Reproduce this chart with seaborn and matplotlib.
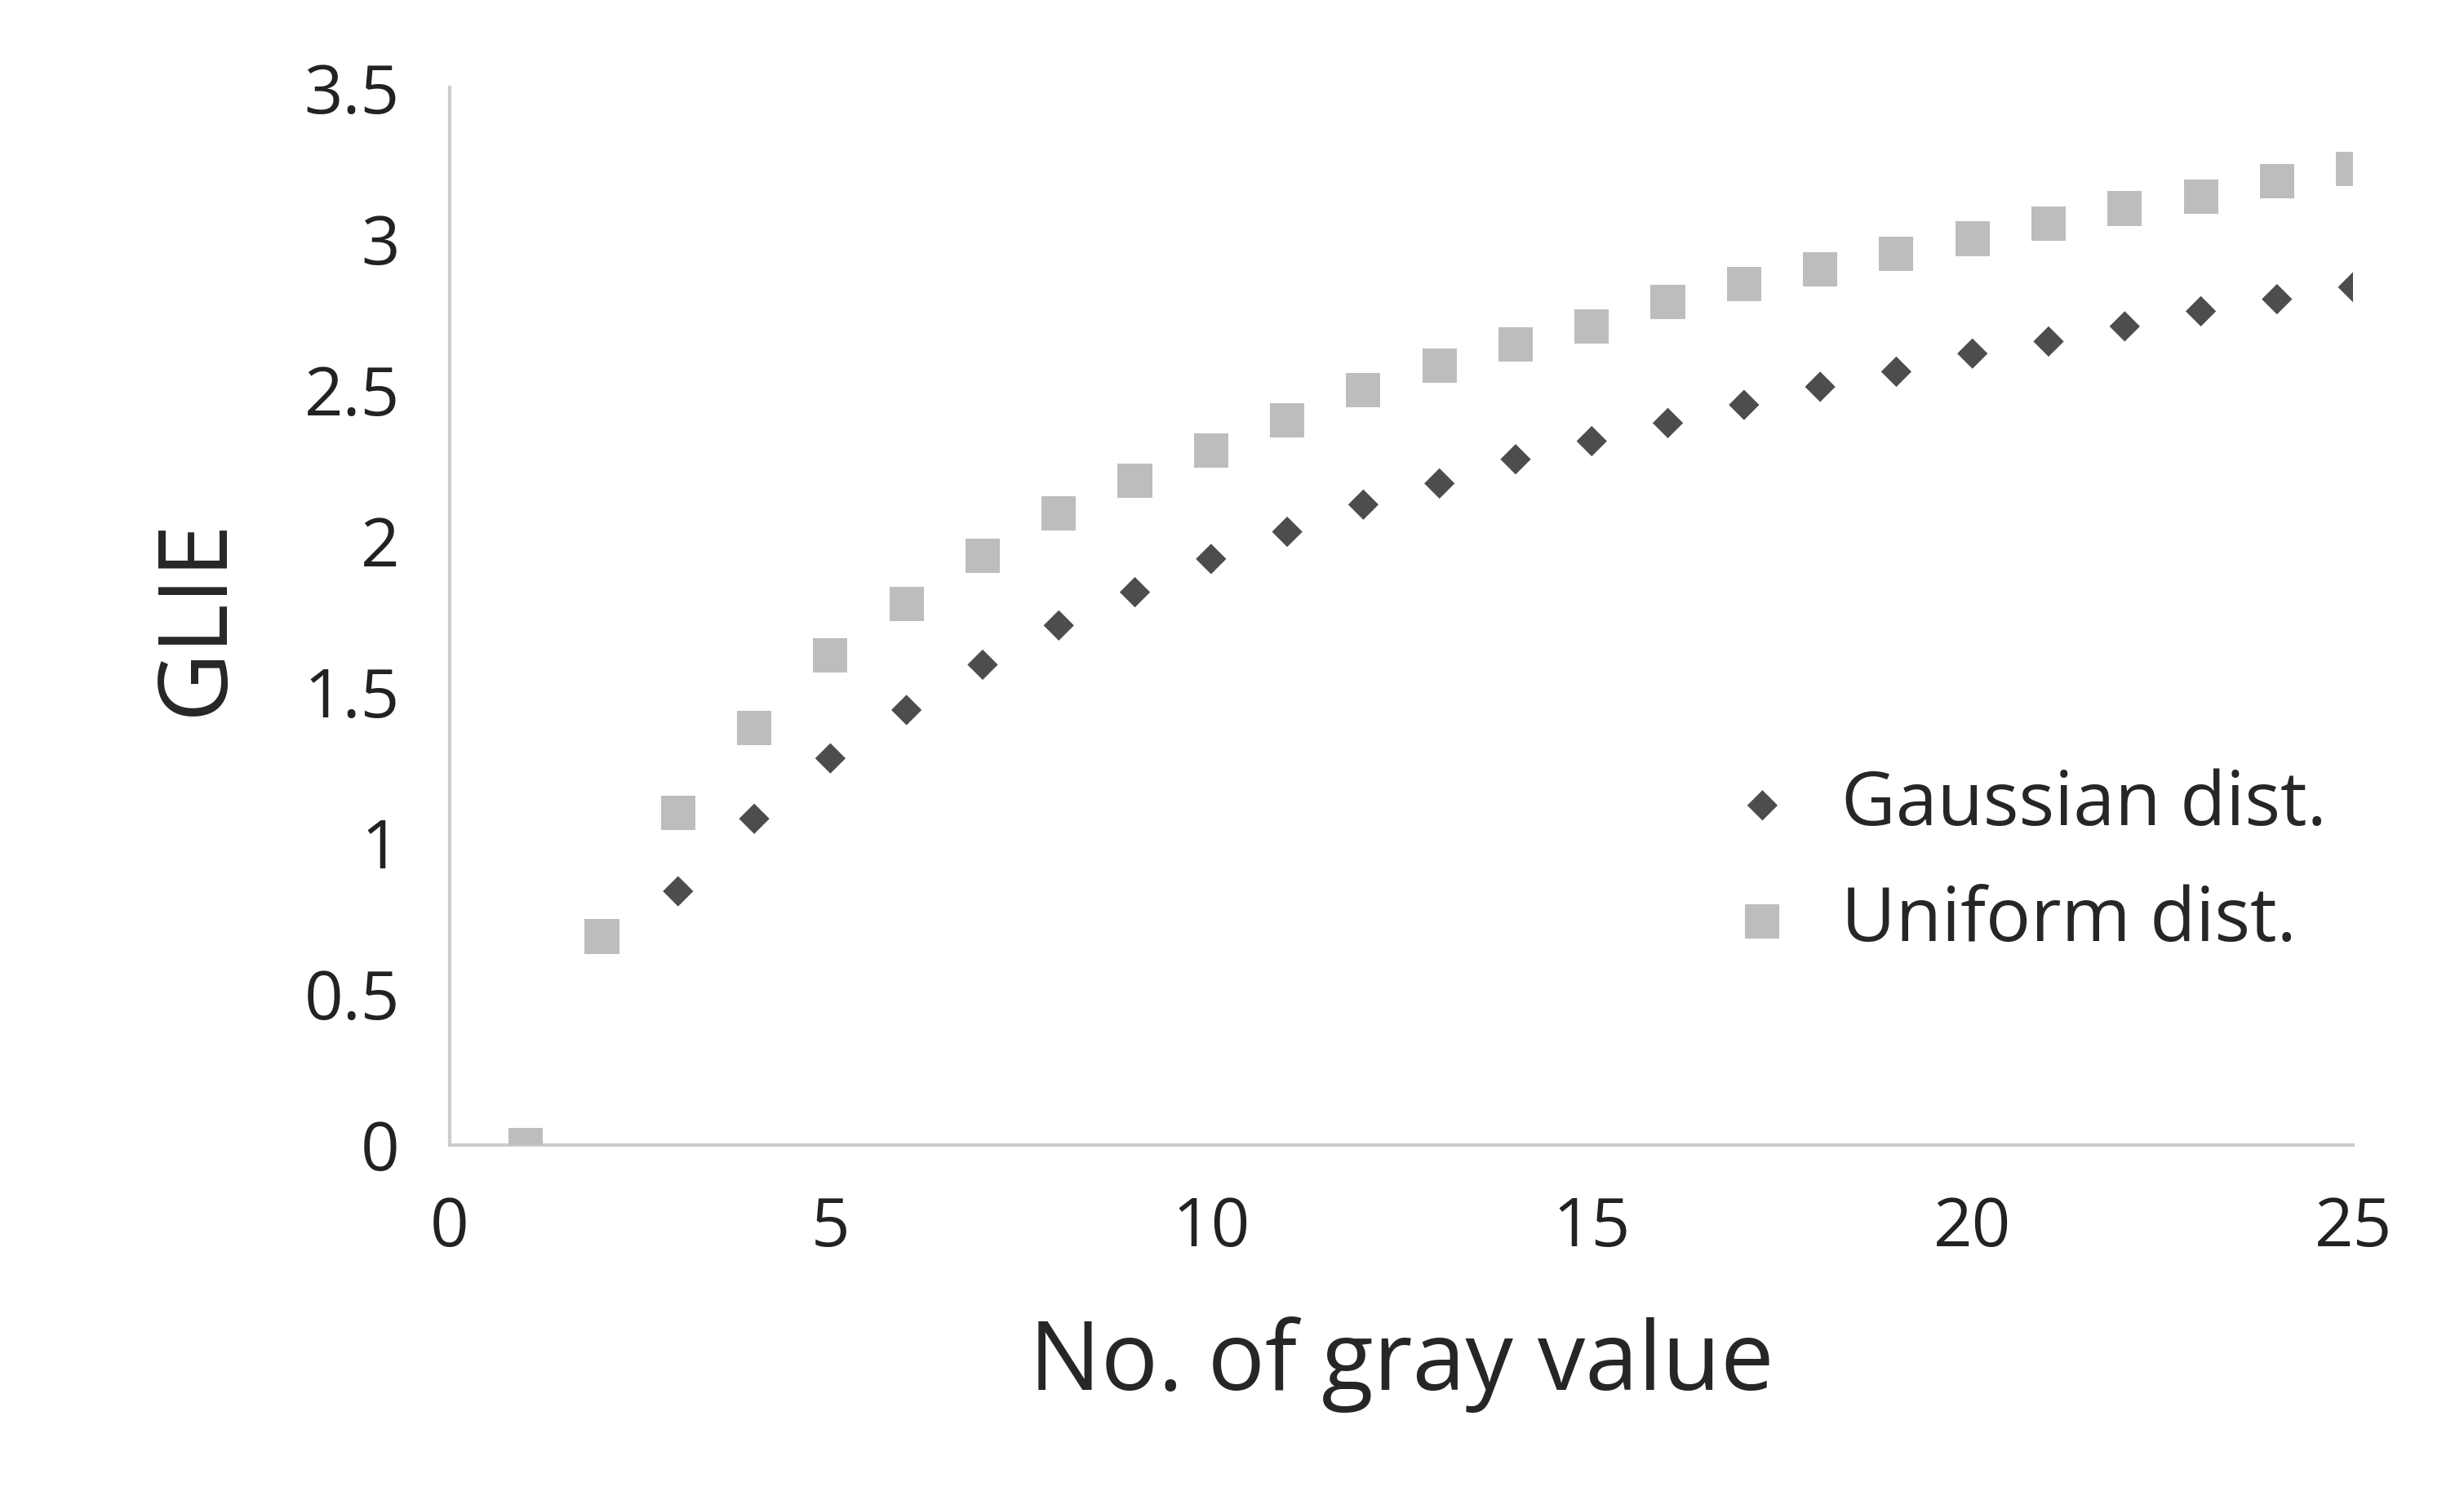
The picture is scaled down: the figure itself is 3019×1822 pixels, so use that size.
import pandas as pd
import matplotlib.pyplot as plt
import seaborn as sns

# values
gray_values = list(range(1, 26))
gaussian = [0, 0.69, 0.84, 1.08, 1.28, 1.44, 1.59, 1.72, 1.83, 1.94, 2.03, 2.12, 2.19,
            2.27, 2.33, 2.39, 2.45, 2.51, 2.56, 2.62, 2.66, 2.71, 2.76, 2.80, 2.84]
uniform = [0, 0.69, 1.10, 1.38, 1.62, 1.79, 1.95, 2.09, 2.20, 2.30, 2.40, 2.50, 2.58,
           2.65, 2.71, 2.79, 2.85, 2.90, 2.95, 3.00, 3.05, 3.10, 3.14, 3.19, 3.23]
series_names = ['Gaussian dist.', 'Uniform dist.']

df = pd.concat([
    pd.DataFrame({'x': gray_values, 'y': gaussian, 'dist': series_names[0]}),
    pd.DataFrame({'x': gray_values, 'y': uniform, 'dist': series_names[1]}),
])

sns.set_style('white')
plt.rcParams['font.family'] = ['Open Sans', 'DejaVu Sans']

fig = plt.figure(figsize=(15.095, 9.11), dpi=200)
ax = fig.add_axes([0.1825, 0.23, 0.7725, 0.711])

# gaussian under the squares: where they coincide only the square shows
sns.scatterplot(data=df[df.dist == series_names[0]], x='x', y='y', ax=ax,
                marker='D', s=90, color='#4d4d4d', edgecolor='none', label=series_names[0], zorder=3)
sns.scatterplot(data=df[df.dist == series_names[1]], x='x', y='y', ax=ax,
                marker='s', s=230, color='#bdbdbd', edgecolor='none', label=series_names[1], zorder=4)

ax.set_xlim(0, 25)
ax.set_ylim(0, 3.5)
ax.set_xticks(range(0, 26, 5))
ax.set_yticks([0, 0.5, 1, 1.5, 2, 2.5, 3, 3.5])
ax.set_yticklabels(['0', '0.5', '1', '1.5', '2', '2.5', '3', '3.5'])
ax.tick_params(labelsize=30, colors='#222222', length=10, width=1.5, direction='out', pad=12)
ax.tick_params(axis='both', color='#cccccc')
for side in ['top', 'right']:
    ax.spines[side].set_visible(False)
for side in ['left', 'bottom']:
    ax.spines[side].set_color('#cccccc')
    ax.spines[side].set_linewidth(1.5)
ax.set_xlabel('No. of gray value', fontsize=42, labelpad=24)
ax.set_ylabel('GLIE', fontsize=42, labelpad=26)

ax.legend(loc='upper left', bbox_to_anchor=(0.615, 0.42),
          frameon=False, fontsize=33, handletextpad=0.05, labelspacing=0.55, markerscale=1.0)

fig.savefig('out.png', dpi=200)
